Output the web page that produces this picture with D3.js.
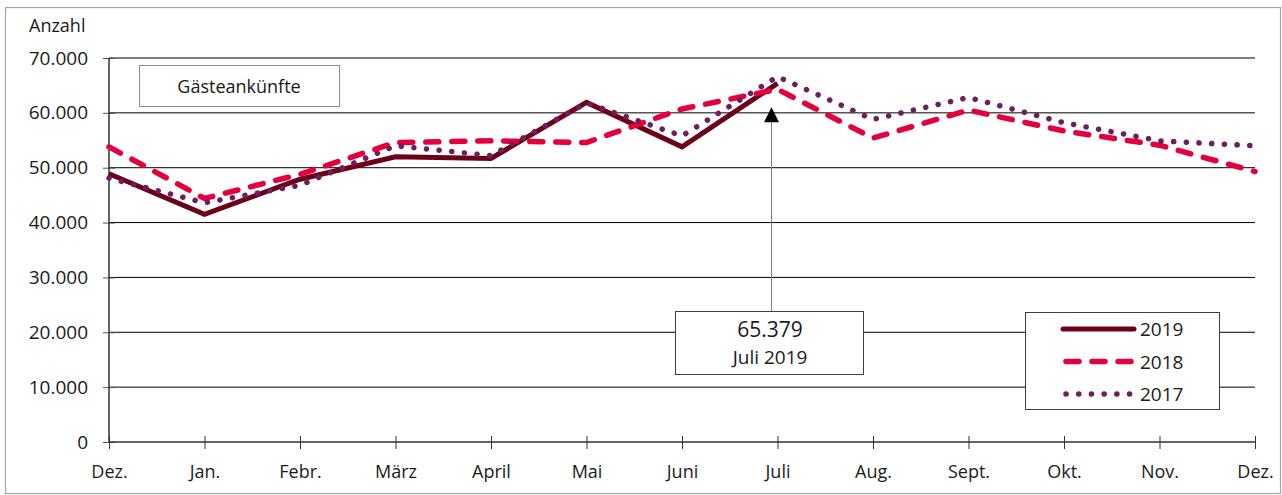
<!DOCTYPE html>
<html>
<head>
    <meta charset="utf-8">
    <style>
        body {
            margin: 0;
            background: white;
        }

        svg {
            display: block;
            font-family: "Open Sans", "Noto Sans", sans-serif;
        }
    </style>
</head>
<body>
    <svg width="1282" height="495"></svg>

<script src="https://d3js.org/d3.v7.min.js"></script>
<script>
    // month labels, first and last are both December
    const months = ["Dez.", "Jan.", "Febr.", "März", "April", "Mai", "Juni", "Juli", "Aug.", "Sept.", "Okt.", "Nov.", "Dez."]
    const yTicks = [0, 10000, 20000, 30000, 40000, 50000, 60000, 70000]

    // series values (Gästeankünfte)
    const values2019 = [48900, 41500, 47900, 52000, 51700, 61900, 53800, 65379]
    const values2018 = [53800, 44400, 48800, 54600, 54900, 54600, 60700, 64300, 55400, 60500, 56700, 54100, 49300]
    const values2017 = [48100, 43600, 46800, 54000, 52200, 61800, 55800, 66600, 58800, 62800, 58200, 54900, 54000]

    const years = ["2019", "2018", "2017"]
    const seriesList = [values2019, values2018, values2017]

    const width = 1282
    const height = 495
    const plotLeft = 109, plotRight = 1255, plotTop = 58, plotBottom = 442

    const svg = d3.select("svg")

    // outer frame
    svg.append("rect")
        .attr("x", 5.5).attr("y", 7.5)
        .attr("width", width - 7).attr("height", height - 9)
        .style("fill", "none")
        .style("stroke", "#a6a6a6")
        .style("stroke-width", 1.2)

    let x = d3.scaleLinear()
        .domain([0, months.length - 1])
        .range([plotLeft, plotRight])

    let y = d3.scaleLinear()
        .domain([0, 70000])
        .range([plotBottom, plotTop])

    // gridlines
    svg.append("g")
        .selectAll("line")
        .data(yTicks.slice(1))
        .join("line")
        .attr("x1", plotLeft).attr("x2", plotRight)
        .attr("y1", d => y(d)).attr("y2", d => y(d))
        .style("stroke", "#000")
        .style("stroke-width", 1)

    // y axis
    let yAxis = svg.append("g")
        .attr("transform", `translate(${plotLeft},0)`)
        .call(d3.axisLeft(y)
            .tickValues(yTicks)
            .tickSize(0)
            .tickPadding(21)
            .tickFormat(d => d === 0 ? "0" : d3.format(",")(d).replace(/,/g, ".")))
    yAxis.select(".domain").remove()
    yAxis.selectAll("text")
        .style("font-size", "19px")
        .style("font-family", "'Open Sans', sans-serif")
        .style("fill", "#1a1a1a")
    yAxis.selectAll(".tick").append("line")
        .attr("x1", -6).attr("x2", 6)
        .style("stroke", "#555")

    svg.append("line")
        .attr("x1", plotLeft).attr("x2", plotLeft)
        .attr("y1", plotTop).attr("y2", plotBottom)
        .style("stroke", "#333")
        .style("stroke-width", 1.5)

    // x axis
    let xAxis = svg.append("g")
        .attr("transform", `translate(0,${plotBottom})`)
        .call(d3.axisBottom(x)
            .tickValues(d3.range(months.length))
            .tickSize(0)
            .tickPadding(23)
            .tickFormat(i => months[i]))
    xAxis.select(".domain").remove()
    xAxis.selectAll("text")
        .style("font-size", "18px")
        .style("font-family", "'Open Sans', sans-serif")
        .style("fill", "#1a1a1a")
    xAxis.selectAll(".tick").append("line")
        .attr("y1", -6).attr("y2", 7)
        .style("stroke", "#333")

    svg.append("line")
        .attr("x1", plotLeft).attr("x2", plotRight)
        .attr("y1", plotBottom).attr("y2", plotBottom)
        .style("stroke", "#333")
        .style("stroke-width", 1.5)

    svg.append("text")
        .attr("x", 29).attr("y", 32)
        .style("font-size", "18px")
        .style("fill", "#1a1a1a")
        .text("Anzahl")

    // title box
    svg.append("rect")
        .attr("x", 139.5).attr("y", 65.5)
        .attr("width", 200).attr("height", 41)
        .style("fill", "white")
        .style("stroke", "#8c8c8c")
    svg.append("text")
        .attr("x", 239).attr("y", 93)
        .attr("text-anchor", "middle")
        .style("font-size", "18px")
        .style("fill", "#1a1a1a")
        .text("Gästeankünfte")

    // line styles per year
    const styles = [
        { color: "#6c0019", width: 5, dash: null, cap: "butt" },
        { color: "#e4003d", width: 5.5, dash: "13,13", cap: "round" },
        { color: "#6e1e60", width: 5.5, dash: "0.1,12.6", cap: "round" }
    ]

    let line = d3.line()
        .x((d, i) => x(i))
        .y(d => y(d))

    seriesList.forEach((values, k) => {
        let s = styles[k]
        svg.append("path")
            .datum(values)
            .attr("d", line)
            .style("fill", "none")
            .style("stroke", s.color)
            .style("stroke-width", s.width)
            .style("stroke-linecap", s.cap)
            .style("stroke-linejoin", "miter")
            .style("stroke-dasharray", s.dash)
    })

    // annotation for July 2019
    let peak = values2019[7]
    let ax = x(7) - 6
    svg.append("line")
        .attr("x1", ax).attr("x2", ax)
        .attr("y1", 312).attr("y2", y(peak) + 36)
        .style("stroke", "#7f7f7f")
        .style("stroke-width", 1)
    svg.append("path")
        .attr("d", `M${ax},${y(peak) + 24} L${ax - 7.5},${y(peak) + 39} L${ax + 7.5},${y(peak) + 39} Z`)
        .style("fill", "#000")

    svg.append("rect")
        .attr("x", 675.5).attr("y", 311.5)
        .attr("width", 188).attr("height", 63)
        .style("fill", "white")
        .style("stroke", "#404040")
    svg.append("text")
        .attr("x", 770).attr("y", 337)
        .attr("text-anchor", "middle")
        .style("font-size", "21px")
        .style("fill", "#1a1a1a")
        .text(d3.format(",")(peak).replace(",", "."))
    svg.append("text")
        .attr("x", 770).attr("y", 364)
        .attr("text-anchor", "middle")
        .style("font-size", "19px")
        .style("fill", "#1a1a1a")
        .text("Juli 2019")

    // legend
    let legend = svg.append("g")
    legend.append("rect")
        .attr("x", 1025.5).attr("y", 312.5)
        .attr("width", 194).attr("height", 97)
        .style("fill", "white")
        .style("stroke", "#404040")

    years.forEach((yr, k) => {
        let s = styles[k]
        let ly = 329 + k * 32.5
        legend.append("line")
            .attr("x1", k === 0 ? 1063 : 1066).attr("x2", k === 0 ? 1134 : 1132)
            .attr("y1", ly).attr("y2", ly)
            .style("stroke", s.color)
            .style("stroke-width", s.width)
            .style("stroke-linecap", "round")
            .style("stroke-dasharray", s.dash)
        legend.append("text")
            .attr("x", 1140).attr("y", ly + 7)
            .style("font-size", "19px")
            .style("fill", "#1a1a1a")
            .text(yr)
    })
</script>
</body>
</html>
